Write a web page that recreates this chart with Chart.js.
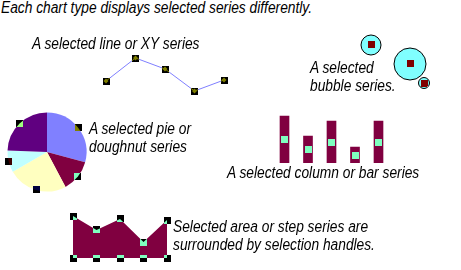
<!DOCTYPE html>
<html><head><meta charset="utf-8">
<script src="https://cdn.jsdelivr.net/npm/chart.js@4.4.1/dist/chart.umd.min.js"></script>
<style>
html,body{margin:0;padding:0;background:#fff;width:461px;height:270px;overflow:hidden;position:relative;}
canvas{position:absolute;z-index:1;}
.t{position:absolute;z-index:2;font-family:"Liberation Sans",Arial,sans-serif;font-style:italic;font-size:16px;line-height:16px;white-space:nowrap;transform:scaleX(0.86);transform-origin:0 0;color:#000;}
</style></head><body>
<canvas id="cLine" width="140" height="58" style="left:96px;top:45px"></canvas>
<canvas id="cBubble" width="100" height="65" style="left:350px;top:30px"></canvas>
<canvas id="cPie" width="94" height="94" style="left:0px;top:105px"></canvas>
<canvas id="cBar" width="138" height="60" style="left:263px;top:106px"></canvas>
<canvas id="cArea" width="114" height="66" style="left:63px;top:204px"></canvas>
<script>
// ---- data ----
const titleText = "Each chart type displays selected series differently.";
const categories = ["1", "2", "3", "4", "5"];
const lineValues = [19, 42, 31, 9, 20];
const bubbleX = [2.1, 6.0, 7.4];
const bubbleY = [5.0, 3.1, 1.2];
const bubbleR = [10, 16, 5.5];
const pieValues = [105, 47, 88, 32, 88];
const barValues = [47, 27, 42, 16, 42];
const areaValues = [42, 28, 39, 16, 38];
const lineCaption = ["A selected line or XY series"];
const bubbleCaption = ["A selected", "bubble series."];
const pieCaption = ["A selected pie or", "doughnut series"];
const barCaption = ["A selected column or bar series"];
const areaCaption = ["Selected area or step series are", "surrounded by selection handles."];

// ---- styles ----
const LINE_COLOR = '#8080ff';
const BUBBLE_COLOR = '#80ffff';
const PIE_COLORS = ['#8080ff', '#800040', '#ffffc0', '#c0ffff', '#600080'];
const BAR_COLOR = '#800040';
const AREA_COLOR = '#800040';
const HANDLE = 7;

// ---- text ----
function addText(lines, x, baselines) {
  lines.forEach((s, i) => {
    const d = document.createElement('div');
    d.className = 't';
    d.textContent = s;
    d.style.left = x + 'px';
    d.style.top = (baselines[i] - 13.55) + 'px';
    document.body.appendChild(d);
  });
}
addText([titleText], 1, [13.3]);
addText(lineCaption, 32, [49.5]);
addText(bubbleCaption, 310, [73.3, 91.5]);
addText(pieCaption, 89, [134.8, 153]);
addText(barCaption, 227, [178.3]);
addText(areaCaption, 173, [233, 250.5]);

// ---- plugins ----
const whiteBg = { id: 'whiteBg', beforeDraw(chart) {
  const c = chart.ctx; c.save(); c.fillStyle = '#fff'; c.fillRect(0, 0, chart.width, chart.height); c.restore();
}};
function handlesPlugin(getPoints) {
  return { id: 'handles', afterDatasetsDraw(chart) {
    const c = chart.ctx;
    c.save();
    c.globalCompositeOperation = 'difference';
    c.fillStyle = '#fff';
    getPoints(chart).forEach(p => {
      c.fillRect(Math.round(p.x - HANDLE / 2), Math.round(p.y - HANDLE / 2), HANDLE, HANDLE);
    });
    c.restore();
  }};
}
function opts(padding, scales) {
  const o = {
    responsive: false, animation: false, devicePixelRatio: 1, events: [],
    layout: { padding: padding, autoPadding: false },
    plugins: { legend: { display: false }, tooltip: { enabled: false }, title: { display: false } }
  };
  if (scales) o.scales = scales;
  return o;
}

// ---- line ----
new Chart(document.getElementById('cLine'), {
  type: 'line',
  data: { labels: categories, datasets: [{
    data: lineValues, borderColor: LINE_COLOR, borderWidth: 1, tension: 0,
    pointStyle: 'rectRot', pointRadius: 2.5, pointBackgroundColor: LINE_COLOR, pointBorderWidth: 0, clip: false
  }]},
  options: opts({ left: 10, right: 12, top: 5, bottom: 3 },
    { x: { display: false }, y: { display: false, min: 0, max: 50 } }),
  plugins: [whiteBg, handlesPlugin(ch => ch.getDatasetMeta(0).data.map(e => ({ x: e.x, y: e.y })))]
});

// ---- bubble ----
new Chart(document.getElementById('cBubble'), {
  type: 'bubble',
  data: { datasets: [{
    data: bubbleX.map((x, i) => ({ x: x, y: bubbleY[i], r: bubbleR[i] })),
    backgroundColor: BUBBLE_COLOR, borderColor: '#000', borderWidth: 1, clip: false
  }]},
  options: opts(0, { x: { display: false, min: 0, max: 10 }, y: { display: false, min: 0, max: 6.5 } }),
  plugins: [whiteBg, handlesPlugin(ch => ch.getDatasetMeta(0).data.map(e => ({ x: e.x, y: e.y })))]
});

// ---- pie ----
new Chart(document.getElementById('cPie'), {
  type: 'pie',
  data: { labels: categories, datasets: [{
    data: pieValues, backgroundColor: PIE_COLORS, borderWidth: 0
  }]},
  options: opts(7.5, null),
  plugins: [whiteBg, handlesPlugin(ch => ch.getDatasetMeta(0).data.map(a => {
    const mid = (a.startAngle + a.endAngle) / 2;
    const r = a.outerRadius;
    return { x: a.x + Math.cos(mid) * r, y: a.y + Math.sin(mid) * r };
  }))]
});

// ---- bar ----
new Chart(document.getElementById('cBar'), {
  type: 'bar',
  data: { labels: categories, datasets: [{
    data: barValues, backgroundColor: BAR_COLOR, borderWidth: 0, barThickness: 9
  }]},
  options: opts({ left: 9.75, right: 10.75, top: 7, bottom: 3 },
    { x: { display: false }, y: { display: false, min: 0, max: 50 } }),
  plugins: [whiteBg, handlesPlugin(ch => ch.getDatasetMeta(0).data.map(b => ({ x: b.x, y: (b.y + b.base) / 2 })))]
});

// ---- area ----
new Chart(document.getElementById('cArea'), {
  type: 'line',
  data: { labels: categories, datasets: [{
    data: areaValues, fill: 'origin', backgroundColor: AREA_COLOR, borderColor: 'rgba(0,0,0,0)',
    borderWidth: 1, tension: 0, pointRadius: 0, clip: false
  }]},
  options: opts({ left: 10, right: 10, top: 4, bottom: 12 },
    { x: { display: false }, y: { display: false, min: 0, max: 50 } }),
  plugins: [whiteBg, handlesPlugin(ch => {
    const y0 = ch.scales.y.getPixelForValue(0);
    const pts = [];
    ch.getDatasetMeta(0).data.forEach(p => { pts.push({ x: p.x, y: p.y }); pts.push({ x: p.x, y: y0 }); });
    return pts;
  })]
});
</script>
</body></html>
